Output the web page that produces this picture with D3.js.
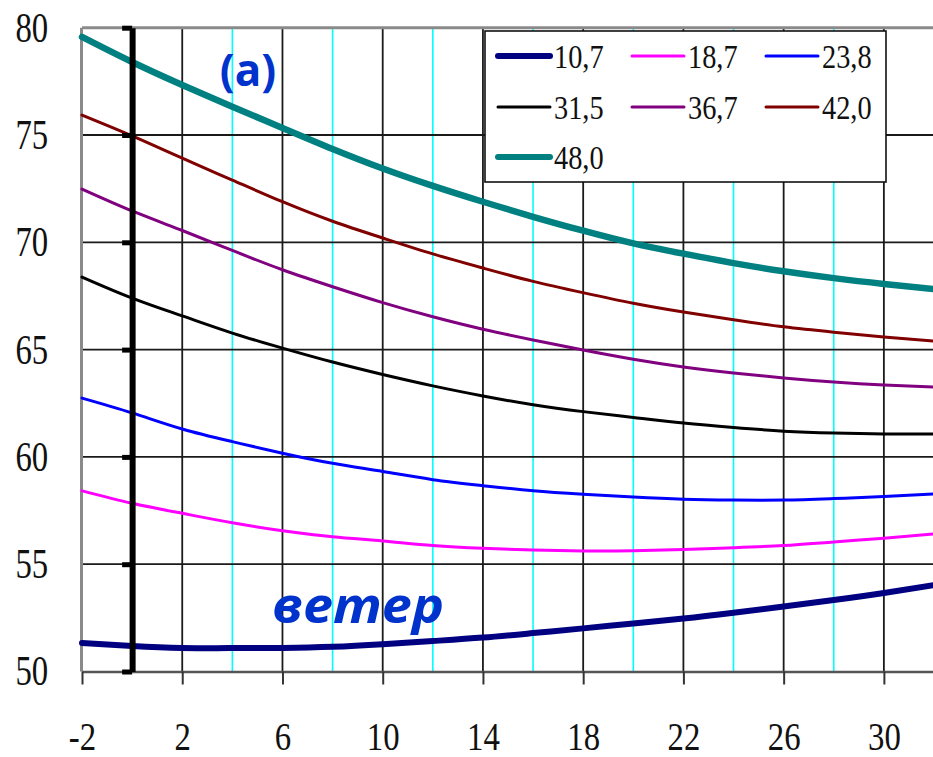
<!DOCTYPE html>
<html>
<head>
<meta charset="utf-8">
<script src="https://cdn.jsdelivr.net/npm/d3@7"></script>
<style>
  html, body { margin: 0; padding: 0; background: #fff; }
  svg { display: block; }
</style>
</head>
<body>
<svg id="chart" width="933" height="757"></svg>
<script>
// ---- data ----
const xValues = [-2, 0, 2, 4, 6, 8, 10, 12, 14, 16, 18, 20, 22, 24, 26, 28, 30, 32];
const seriesNames = ["10,7", "18,7", "23,8", "31,5", "36,7", "42,0", "48,0"];
const s10_7 = [51.33, 51.19, 51.10, 51.09, 51.10, 51.15, 51.27, 51.42, 51.58, 51.79, 52.01, 52.24, 52.47, 52.74, 53.03, 53.33, 53.66, 54.03];
const s18_7 = [58.42, 57.84, 57.37, 56.93, 56.56, 56.28, 56.08, 55.87, 55.74, 55.66, 55.62, 55.63, 55.69, 55.77, 55.87, 56.04, 56.21, 56.41];
const s23_8 = [62.74, 62.05, 61.30, 60.71, 60.17, 59.70, 59.32, 58.94, 58.66, 58.42, 58.26, 58.13, 58.03, 57.99, 57.99, 58.06, 58.15, 58.27];
const s31_5 = [68.38, 67.40, 66.57, 65.77, 65.07, 64.42, 63.84, 63.31, 62.84, 62.43, 62.11, 61.84, 61.58, 61.37, 61.20, 61.11, 61.07, 61.07];
const s36_7 = [72.48, 71.46, 70.55, 69.62, 68.72, 67.93, 67.19, 66.53, 65.95, 65.45, 64.98, 64.55, 64.19, 63.91, 63.68, 63.49, 63.35, 63.26];
const s42_0 = [75.93, 74.96, 73.92, 72.90, 71.89, 70.98, 70.20, 69.46, 68.80, 68.18, 67.65, 67.16, 66.75, 66.39, 66.06, 65.81, 65.59, 65.40];
const s48_0 = [79.57, 78.40, 77.33, 76.32, 75.33, 74.35, 73.44, 72.63, 71.89, 71.19, 70.54, 69.95, 69.47, 69.03, 68.65, 68.33, 68.06, 67.82];
const seriesValues = [s10_7, s18_7, s23_8, s31_5, s36_7, s42_0, s48_0];
const xTickLabels = [-2, 2, 6, 10, 14, 18, 22, 26, 30];
const yTickLabels = [50, 55, 60, 65, 70, 75, 80];
const blackGridX = [2, 6, 10, 14, 18, 22, 26, 30];
const cyanGridX = [4, 8, 12, 16, 20, 24, 28];
const gridY = [55, 60, 65, 70, 75];
const panelLabel = "(a)";
const windLabel = "ветер";

// ---- styles ----
const seriesColors = ["#000080", "#FF00FF", "#0000FF", "#000000", "#800080", "#800000", "#008080"];
const seriesWidths = [6, 3, 3, 3, 3, 3, 6.5];

const svg = d3.select("#chart");
svg.append("rect").attr("width", 933).attr("height", 757).attr("fill", "#fff");

const x = d3.scaleLinear().domain([-2, 32]).range([82, 934]);
const y = d3.scaleLinear().domain([50, 80]).range([671.5, 27.7]);

// gridlines
const grid = svg.append("g");
grid.selectAll(".gc").data(cyanGridX).join("line")
  .attr("x1", d => x(d)).attr("x2", d => x(d))
  .attr("y1", y(80)).attr("y2", y(50))
  .attr("stroke", "#00FFFF").attr("stroke-width", 1.6);
grid.selectAll(".gb").data(blackGridX).join("line")
  .attr("x1", d => x(d)).attr("x2", d => x(d))
  .attr("y1", y(80)).attr("y2", y(50))
  .attr("stroke", "#1a1a1a").attr("stroke-width", 1.8);
grid.selectAll(".gh").data(gridY).join("line")
  .attr("x1", x(-2)).attr("x2", 933)
  .attr("y1", d => y(d)).attr("y2", d => y(d))
  .attr("stroke", "#1a1a1a").attr("stroke-width", 1.8);

// frame (top and left borders)
svg.append("line").attr("x1", x(-2)).attr("x2", 933).attr("y1", y(80)).attr("y2", y(80))
  .attr("stroke", "#8a8a8a").attr("stroke-width", 3);
svg.append("line").attr("x1", x(-2) - 0.5).attr("x2", x(-2) - 0.5).attr("y1", y(80)).attr("y2", y(50))
  .attr("stroke", "#8a8a8a").attr("stroke-width", 3);

// curves
const line = d3.line().x((d, i) => x(xValues[i])).y(d => y(d)).curve(d3.curveNatural);
svg.append("g").selectAll("path").data(seriesValues).join("path")
  .attr("d", d => line(d))
  .attr("fill", "none")
  .attr("stroke", (d, i) => seriesColors[i])
  .attr("stroke-width", (d, i) => seriesWidths[i])
  .attr("stroke-linecap", "round")
  .attr("stroke-linejoin", "round");

// x axis
const xAxis = svg.append("g").attr("transform", `translate(0,${y(50)})`)
  .call(d3.axisBottom(x).tickValues(xTickLabels).tickFormat(d => String(d))
    .tickSize(13).tickSizeOuter(0).tickPadding(36));
xAxis.select(".domain").attr("stroke", "#555").attr("stroke-width", 2.5);
xAxis.selectAll(".tick line").attr("stroke", "#333").attr("stroke-width", 2);
xAxis.selectAll(".tick text")
  .attr("font-family", "'Liberation Serif', 'Times New Roman', serif")
  .attr("font-size", 41).attr("fill", "#111")
  .attr("transform", "scale(0.8,1)");

// y axis (thick line at x = 0)
const yAxis = svg.append("g").attr("transform", `translate(${x(0)},0)`)
  .call(d3.axisLeft(y).tickValues(yTickLabels).tickSize(10).tickSizeOuter(0).tickPadding(74));
yAxis.select(".domain").attr("stroke", "#000").attr("stroke-width", 6);
yAxis.selectAll(".tick line").attr("stroke", "#000").attr("stroke-width", 5);
yAxis.selectAll(".tick text")
  .attr("font-family", "'Liberation Serif', 'Times New Roman', serif")
  .attr("font-size", 42).attr("fill", "#111")
  .attr("x", -84 / 0.78)
  .attr("transform", "scale(0.78,1)");

// legend
const lg = svg.append("g");
lg.append("rect").attr("x", 485).attr("y", 31).attr("width", 401).attr("height", 151)
  .attr("fill", "#fff").attr("stroke", "#111").attr("stroke-width", 1.6);
const colX = [498, 632, 766];
const rowY = [56, 107, 157];
seriesNames.forEach((name, i) => {
  const cx = colX[i % 3], cy = rowY[Math.floor(i / 3)];
  lg.append("line").attr("x1", cx).attr("x2", cx + 52).attr("y1", cy).attr("y2", cy)
    .attr("stroke", seriesColors[i]).attr("stroke-width", seriesWidths[i] === 3 ? 3 : 6)
    .attr("stroke-linecap", "round");
  lg.append("text")
    .attr("transform", `translate(${cx + 56},${cy + 12}) scale(0.86,1)`)
    .attr("font-family", "'Liberation Serif', 'Times New Roman', serif")
    .attr("font-size", 33).attr("fill", "#111")
    .text(name);
});

// annotations
svg.append("text").attr("x", 248).attr("y", 86)
  .attr("text-anchor", "middle")
  .attr("font-family", "'Open Sans', sans-serif").attr("font-weight", "bold")
  .attr("font-size", 44).attr("fill", "#0033CC")
  .text(panelLabel);
svg.append("text").attr("x", 272).attr("y", 623)
  .attr("font-family", "'Open Sans', sans-serif").attr("font-weight", "bold").attr("font-style", "italic")
  .attr("font-size", 50).attr("fill", "#0033CC")
  .attr("textLength", 172).attr("lengthAdjust", "spacingAndGlyphs")
  .attr("lang", "ru")
  .text(windLabel);
</script>
</body>
</html>
